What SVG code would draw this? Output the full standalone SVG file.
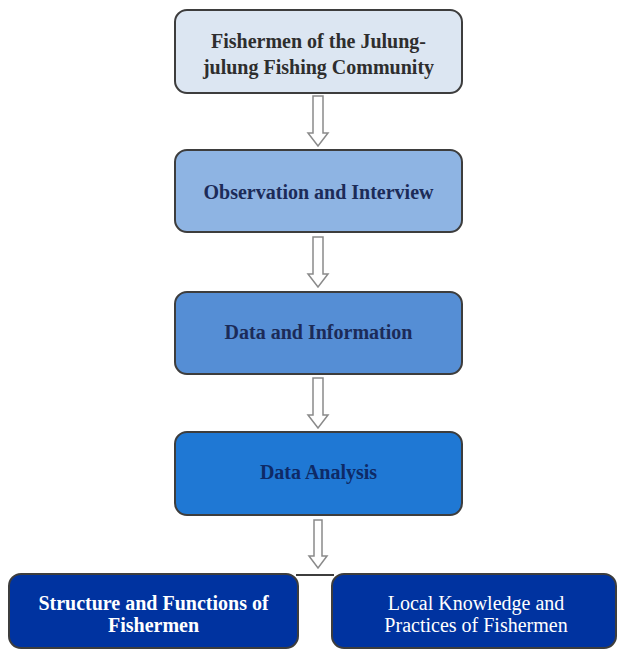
<svg xmlns="http://www.w3.org/2000/svg" width="618" height="655" viewBox="0 0 618 655">
<defs>
<style>
.box{stroke:#3d3d3d;stroke-width:2}
.t{font-family:"Liberation Serif","Times New Roman",serif;font-size:20px;font-weight:bold;text-anchor:middle}
.dark{fill:#1c2b58}
.light{fill:#ffffff}
.arrow{fill:#ffffff;stroke:#8a8a8a;stroke-width:1.5}
</style>
</defs>
<rect width="618" height="655" fill="#ffffff"/>
<g id="n1">
<rect class="box" x="175" y="10" width="287" height="83" rx="12" fill="#dce6f2"/>
<text class="t" x="318.5" y="48" fill="#2e2e2e">Fishermen of the Julung-</text>
<text class="t" x="318.5" y="74" fill="#2e2e2e">julung Fishing Community</text>
</g>
<g id="n2">
<rect class="box" x="175" y="150" width="287" height="82" rx="12" fill="#8eb4e3"/>
<text class="t dark" x="318.5" y="199">Observation and Interview</text>
</g>
<g id="n3">
<rect class="box" x="175" y="292" width="287" height="82" rx="12" fill="#558ed5"/>
<text class="t dark" x="318.5" y="339">Data and Information</text>
</g>
<g id="n4">
<rect class="box" x="175" y="432" width="287" height="83" rx="12" fill="#1f78d4"/>
<text class="t" x="318.5" y="479" fill="#0e2a66">Data Analysis</text>
</g>
<g id="connectors">
<path class="arrow" d="M313,96 H323 V133 H328 L318,146 L308,133 H313 Z"/>
<path class="arrow" d="M313,237 H323 V274 H328 L318,287 L308,274 H313 Z"/>
<path class="arrow" d="M313,378 H323 V415 H328 L318,428 L308,415 H313 Z"/>
<path class="arrow" d="M314,520 H322 V556 H327 L318,568 L309,556 H314 Z"/>
<line x1="296" y1="575" x2="334" y2="575" stroke="#3d3d3d" stroke-width="2"/>
</g>
<g id="n5">
<rect class="box" x="9" y="574" width="289" height="74" rx="12" fill="#0033a0"/>
<text class="t light" x="153.5" y="610">Structure and Functions of</text>
<text class="t light" x="153.5" y="632">Fishermen</text>
</g>
<g id="n6">
<rect class="box" x="332" y="574" width="284" height="74" rx="12" fill="#0033a0"/>
<text class="t light" x="476" y="610" style="font-weight:normal">Local Knowledge and</text>
<text class="t light" x="476" y="632" style="font-weight:normal">Practices of Fishermen</text>
</g>
</svg>
